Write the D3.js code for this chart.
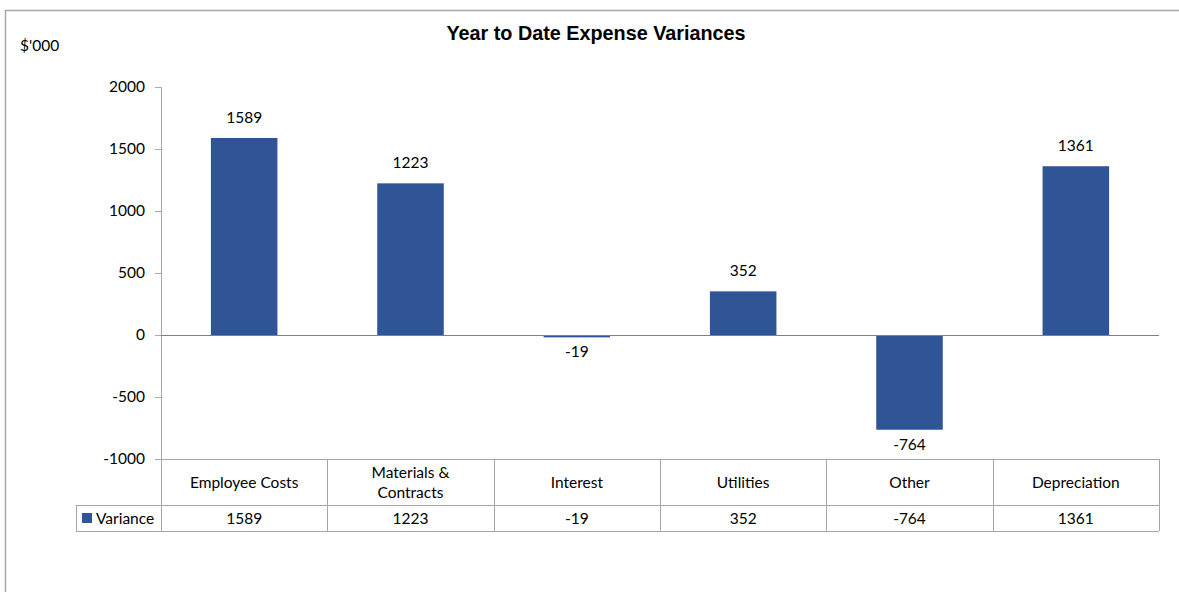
<!DOCTYPE html>
<html>
<head>
<meta charset="utf-8">
<script src="https://cdn.jsdelivr.net/npm/d3@7"></script>
<style>
  body { margin: 0; background: #fff; }
  svg { display: block; }
  text { font-family: Lato, "Open Sans", sans-serif; fill: #000; }
</style>
</head>
<body>
<div id="chart"></div>
<script>
// chart data
const categories = ['Employee Costs', 'Materials & Contracts', 'Interest', 'Utilities', 'Other', 'Depreciation'];
const variance = [1589, 1223, -19, 352, -764, 1361];
const yTicks = [-1000, -500, 0, 500, 1000, 1500, 2000];
const seriesName = 'Variance';

const width = 1179, height = 592;
const plot = { left: 161, right: 1159, top: 87, bottom: 459 };
const barColor = '#2F5597';
const gridColor = '#A6A6A6';
const fs = '15.5px';

const svg = d3.select('#chart').append('svg')
  .attr('width', width)
  .attr('height', height);

// outer chart border (runs off the right/bottom edge)
svg.append('path')
  .attr('d', `M5.5,${height + 2}V10.5H${width + 2}`)
  .attr('fill', 'none')
  .attr('stroke', '#A6A6A6')
  .attr('stroke-width', 1.5);

// title
svg.append('text')
  .attr('x', 596).attr('y', 40)
  .attr('text-anchor', 'middle')
  .style('font-family', '"Liberation Sans", Arial, sans-serif')
  .style('font-weight', 'bold')
  .style('font-size', '19.8px')
  .text('Year to Date Expense Variances');

svg.append('text')
  .attr('x', 20).attr('y', 51)
  .style('font-size', fs)
  .text("$'000");

const x = d3.scaleBand().domain(categories).range([plot.left, plot.right]).paddingInner(0.6).paddingOuter(0.3);
const xCell = d3.scaleBand().domain(categories).range([plot.left, plot.right]);
const y = d3.scaleLinear().domain([-1000, 2000]).range([plot.bottom, plot.top]);

// y axis
const yAxis = d3.axisLeft(y).tickValues(yTicks).tickSize(6).tickPadding(10).tickFormat(d => String(d));
const yg = svg.append('g').attr('transform', `translate(${plot.left},0)`).call(yAxis);
yg.select('.domain').attr('stroke', gridColor);
yg.selectAll('.tick line').attr('stroke', gridColor);
yg.selectAll('.tick text').style('font-size', fs).style('font-family', 'Lato, "Open Sans", sans-serif').attr('fill', '#000');

// bars
svg.append('g').selectAll('rect')
  .data(variance)
  .join('rect')
  .attr('x', (d, i) => x(categories[i]))
  .attr('width', x.bandwidth())
  .attr('y', d => y(Math.max(0, d)))
  .attr('height', d => Math.max(2, Math.abs(y(d) - y(0))))
  .attr('fill', barColor);

// zero line
svg.append('line')
  .attr('x1', plot.left).attr('x2', plot.right)
  .attr('y1', y(0) + 0.5).attr('y2', y(0) + 0.5)
  .attr('stroke', '#808080');

// data labels
svg.append('g').selectAll('text')
  .data(variance)
  .join('text')
  .attr('x', (d, i) => x(categories[i]) + x.bandwidth() / 2)
  .attr('y', d => d >= 0 ? y(d) - 15 : y(d) + 20)
  .attr('text-anchor', 'middle')
  .style('font-size', fs)
  .text(d => d);

// data table
const headTop = plot.bottom, headBot = 505, rowBot = 531, legendLeft = 76;
const tg = svg.append('g');
const lineStyle = sel => sel.attr('stroke', gridColor).attr('stroke-width', 1);

tg.append('line').call(lineStyle).attr('x1', plot.left).attr('x2', plot.right).attr('y1', headTop + 0.5).attr('y2', headTop + 0.5);
tg.append('line').call(lineStyle).attr('x1', legendLeft).attr('x2', plot.right).attr('y1', headBot + 0.5).attr('y2', headBot + 0.5);
tg.append('line').call(lineStyle).attr('x1', legendLeft).attr('x2', plot.right).attr('y1', rowBot + 0.5).attr('y2', rowBot + 0.5);
tg.append('line').call(lineStyle).attr('x1', legendLeft + 0.5).attr('x2', legendLeft + 0.5).attr('y1', headBot).attr('y2', rowBot);
tg.selectAll('.vline')
  .data(categories.concat(['end']))
  .join('line')
  .attr('class', 'vline')
  .call(lineStyle)
  .attr('x1', (d, i) => Math.round(plot.left + i * xCell.bandwidth()) + 0.5)
  .attr('x2', (d, i) => Math.round(plot.left + i * xCell.bandwidth()) + 0.5)
  .attr('y1', headTop).attr('y2', rowBot);

// category headers (wrap the long one)
tg.selectAll('.cat')
  .data(categories)
  .join('text')
  .attr('class', 'cat')
  .attr('text-anchor', 'middle')
  .style('font-size', fs)
  .each(function (d) {
    const cx = xCell(d) + xCell.bandwidth() / 2;
    const lines = d.length > 16 ? [d.slice(0, d.indexOf('&') + 1), d.slice(d.indexOf('&') + 2)] : [d];
    const t = d3.select(this);
    const startY = (headTop + headBot) / 2 + 6 - (lines.length - 1) * 10;
    lines.forEach((ln, k) => {
      t.append('tspan').attr('x', cx).attr('y', startY + k * 20).text(ln);
    });
  });

// values row
tg.selectAll('.val')
  .data(variance)
  .join('text')
  .attr('class', 'val')
  .attr('x', (d, i) => xCell(categories[i]) + xCell.bandwidth() / 2)
  .attr('y', (headBot + rowBot) / 2 + 6)
  .attr('text-anchor', 'middle')
  .style('font-size', fs)
  .text(d => d);

// legend key
tg.append('rect')
  .attr('x', 82).attr('y', 513).attr('width', 10).attr('height', 10)
  .attr('fill', barColor);
tg.append('text')
  .attr('x', 96).attr('y', (headBot + rowBot) / 2 + 6)
  .style('font-size', fs)
  .text(seriesName);
</script>
</body>
</html>
